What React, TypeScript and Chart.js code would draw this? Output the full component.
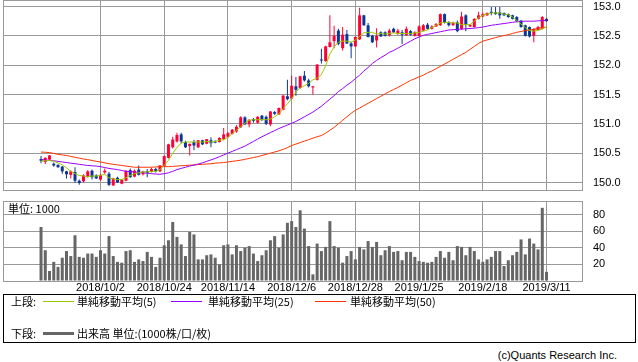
import React, { useEffect, useRef } from "react";
import { Chart, registerables } from "chart.js";
Chart.register(...registerables);

const NUM_FONT = "'Liberation Sans', Arial, sans-serif";
const JP_FONT = "'Noto Sans CJK JP', 'Liberation Sans', sans-serif";
const GRID = "#999999";
const RED = "#ff0033";
const BLUE = "#0a3696";

// ---- data ----
const xLabels = ["2018/10/2", "2018/10/24", "2018/11/14", "2018/12/6", "2018/12/28", "2019/1/25", "2019/2/18", "2019/3/11"];
const xTickIndex = [14, 29, 44, 59, 74, 89, 104, 119];
const priceTicks = [150.0, 150.5, 151.0, 151.5, 152.0, 152.5, 153.0];
const volumeTicks = [20, 40, 60, 80];

const open = [
  150.40,150.35,150.39,150.32,150.30,150.27,150.19,150.13,150.18,150.03,
  150.02,150.10,150.20,150.12,150.05,150.17,150.15,149.95,150.08,149.98,
  150.03,150.21,150.10,150.22,150.14,150.19,150.18,150.23,150.19,150.28,
  150.42,150.60,150.70,150.82,150.69,150.62,150.69,150.60,150.72,150.66,
  150.72,150.70,150.69,150.74,150.78,150.83,150.87,150.94,151.11,150.99,
  151.08,151.02,151.14,151.12,150.99,151.20,151.16,151.24,151.47,151.43,
  151.64,151.61,151.82,151.74,151.62,151.75,152.09,152.07,152.31,152.41,
  152.59,152.29,152.53,152.37,152.32,152.44,152.85,152.68,152.50,152.42,
  152.56,152.56,152.51,152.62,152.53,152.56,152.51,152.58,152.50,152.50,
  152.59,152.69,152.62,152.66,152.68,152.87,152.73,152.68,152.73,152.62,
  152.85,152.66,152.65,152.79,152.83,152.85,152.91,152.90,152.90,152.89,
  152.87,152.85,152.82,152.76,152.68,152.65,152.50,152.60,152.62,152.79,
];
const close = [
  150.37,150.42,150.46,150.29,150.26,150.19,150.14,150.19,150.03,149.99,
  150.12,150.19,150.09,150.07,150.13,150.20,149.96,150.07,150.00,150.05,
  150.20,150.09,150.20,150.13,150.19,150.16,150.23,150.19,150.29,150.45,
  150.65,150.73,150.81,150.70,150.60,150.66,150.63,150.72,150.65,150.74,
  150.67,150.68,150.76,150.82,150.84,150.90,150.95,151.11,150.99,151.07,
  151.05,151.12,151.07,151.00,151.21,151.17,151.27,151.48,151.42,151.65,
  151.58,151.81,151.74,151.64,151.64,152.01,152.08,152.32,152.39,152.50,
  152.36,152.52,152.37,152.32,152.48,152.85,152.68,152.48,152.39,152.50,
  152.49,152.50,152.59,152.56,152.59,152.52,152.62,152.52,152.56,152.66,
  152.68,152.62,152.66,152.70,152.87,152.72,152.68,152.72,152.58,152.83,
  152.69,152.69,152.79,152.85,152.87,152.89,152.89,152.87,152.85,152.85,
  152.82,152.79,152.75,152.65,152.50,152.49,152.62,152.65,152.82,152.75,
];
const high = [
  150.45,150.43,150.47,150.34,150.31,150.28,150.20,150.21,150.26,150.05,
  150.14,150.21,150.22,150.14,150.15,150.24,150.18,150.08,150.10,150.05,
  150.21,150.24,150.22,150.29,150.20,150.23,150.25,150.25,150.30,150.46,
  150.66,150.78,150.85,150.85,150.71,150.66,150.73,150.72,150.73,150.74,
  150.77,150.72,150.77,150.93,150.86,150.91,150.98,151.13,151.13,151.08,
  151.10,151.13,151.15,151.14,151.22,151.22,151.28,151.50,151.75,151.82,
  151.80,151.82,151.90,151.77,151.64,152.02,152.28,152.33,152.85,152.67,
  152.62,152.65,152.60,152.40,152.49,152.98,152.86,152.72,152.52,152.63,
  152.58,152.58,152.62,152.64,152.62,152.60,152.66,152.60,152.58,152.68,
  152.70,152.72,152.68,152.72,152.88,152.88,152.75,152.74,152.76,152.91,
  152.87,152.70,152.80,152.91,152.90,152.90,152.99,152.99,152.99,152.90,
  152.88,152.86,152.84,152.77,152.69,152.66,152.63,152.67,152.84,152.80,
];
const low = [
  150.33,150.31,150.38,150.27,150.25,150.15,150.07,150.07,149.99,149.96,
  150.00,150.08,150.05,150.06,150.03,150.15,149.94,149.94,149.99,149.97,
  150.02,150.08,150.09,150.12,150.12,150.09,150.17,150.17,150.18,150.27,
  150.41,150.58,150.68,150.67,150.59,150.46,150.55,150.59,150.64,150.65,
  150.60,150.67,150.68,150.72,150.76,150.82,150.85,150.93,150.98,150.94,
  151.02,151.00,151.05,150.98,150.96,151.15,151.15,151.23,151.40,151.42,
  151.48,151.60,151.72,151.62,151.50,151.74,152.03,152.06,152.30,152.29,
  152.34,152.25,152.36,152.12,152.31,152.43,152.67,152.47,152.38,152.30,
  152.48,152.49,152.49,152.55,152.52,152.36,152.50,152.50,152.49,152.49,
  152.58,152.61,152.61,152.65,152.67,152.71,152.66,152.67,152.56,152.60,
  152.58,152.65,152.64,152.78,152.82,152.84,152.85,152.86,152.79,152.84,
  152.81,152.78,152.73,152.64,152.49,152.47,152.39,152.59,152.61,152.74,
];
const ma5 = [
  150.36,150.37,150.375,150.36,150.335,150.30,150.25,150.19,150.15,150.12,
  150.11,150.10,150.11,150.11,150.12,150.14,150.08,150.06,150.05,150.05,
  150.08,150.12,150.15,150.165,150.18,150.18,150.19,150.19,150.22,150.29,
  150.375,150.50,150.60,150.67,150.69,150.69,150.69,150.69,150.69,150.70,
  150.69,150.70,150.72,150.73,150.77,150.83,150.89,150.95,151.01,151.06,
  151.07,151.07,151.07,151.07,151.08,151.12,151.17,151.26,151.34,151.43,
  151.54,151.61,151.65,151.69,151.75,151.78,151.84,151.99,152.19,152.31,
  152.39,152.41,152.41,152.39,152.43,152.49,152.55,152.56,152.56,152.53,
  152.54,152.53,152.54,152.55,152.54,152.54,152.54,152.54,152.55,152.56,
  152.58,152.60,152.64,152.68,152.72,152.73,152.73,152.72,152.72,152.69,
  152.69,152.69,152.75,152.81,152.85,152.87,152.89,152.89,152.89,152.87,
  152.86,152.82,152.76,152.70,152.64,152.59,152.58,152.59,152.62,152.65,
];
const ma25 = [
  150.39,150.385,150.375,150.37,150.36,150.35,150.34,150.33,150.32,150.31,
  150.30,150.29,150.285,150.28,150.27,150.255,150.24,150.23,150.22,150.205,
  150.19,150.185,150.18,150.17,150.165,150.16,150.15,150.145,150.14,150.15,
  150.165,150.19,150.22,150.24,150.26,150.28,150.295,150.315,150.335,150.36,
  150.385,150.41,150.44,150.47,150.50,150.53,150.56,150.59,150.62,150.66,
  150.70,150.74,150.78,150.815,150.85,150.885,150.92,150.95,150.98,151.01,
  151.04,151.08,151.12,151.16,151.20,151.25,151.30,151.36,151.42,151.48,
  151.55,151.60,151.66,151.71,151.77,151.83,151.90,151.96,152.03,152.08,
  152.13,152.17,152.22,152.25,152.29,152.33,152.37,152.41,152.45,152.48,
  152.51,152.525,152.54,152.555,152.57,152.585,152.60,152.605,152.61,152.615,
  152.62,152.625,152.63,152.64,152.65,152.665,152.68,152.69,152.70,152.71,
  152.72,152.73,152.74,152.745,152.75,152.75,152.75,152.755,152.76,152.76,
];
const ma50 = [
  150.52,150.515,150.51,150.495,150.48,150.47,150.46,150.445,150.43,150.415,
  150.40,150.39,150.375,150.36,150.35,150.335,150.32,150.31,150.30,150.29,
  150.28,150.27,150.26,150.26,150.26,150.26,150.26,150.265,150.27,150.27,
  150.27,150.275,150.28,150.285,150.29,150.295,150.30,150.305,150.31,150.315,
  150.32,150.33,150.335,150.34,150.35,150.36,150.37,150.38,150.395,150.41,
  150.425,150.44,150.46,150.48,150.50,150.52,150.54,150.565,150.595,150.63,
  150.655,150.68,150.705,150.73,150.755,150.78,150.80,150.84,150.89,150.94,
  151.00,151.06,151.12,151.18,151.23,151.27,151.31,151.35,151.39,151.43,
  151.47,151.51,151.55,151.585,151.62,151.66,151.70,151.74,151.77,151.80,
  151.83,151.87,151.90,151.94,151.98,152.02,152.06,152.10,152.14,152.18,
  152.22,152.27,152.32,152.37,152.41,152.43,152.45,152.47,152.49,152.505,
  152.52,152.54,152.56,152.575,152.59,152.60,152.61,152.625,152.64,152.65,
];
const volume = [
  65,37,12,23,17,28,36,30,55,29,
  28,33,33,29,37,33,54,30,23,22,
  36,37,23,26,24,35,29,17,28,43,
  49,71,53,44,30,59,56,26,26,31,
  32,28,20,43,44,32,43,36,40,42,
  33,24,31,37,49,54,40,56,70,72,
  65,85,63,42,8,45,36,41,72,42,
  40,22,30,36,26,41,38,48,41,47,
  31,37,42,35,36,25,35,35,29,24,
  23,22,23,29,36,28,35,25,42,41,
  31,41,36,26,23,26,29,36,36,18,
  25,31,35,50,32,51,45,38,88,11,
];

// ---- axis ranges ----
const X_MIN = -8.952;
const X_MAX = 127.35;
const P_MIN = 149.872;
const P_MAX = 153.111;
const V_MIN = 0;
const V_MAX = 96.2;

const idx = close.map((_, i) => i);
const candleColors = idx.map((i) => (close[i] >= open[i] ? RED : BLUE));

function zeroPad(s: any) {
  s.paddingTop = 0;
  s.paddingBottom = 0;
  s.paddingLeft = 0;
  s.paddingRight = 0;
}

function xScale(showLabels: boolean, height: number) {
  return {
    type: "linear",
    min: X_MIN,
    max: X_MAX,
    offset: false,
    grid: { offset: false, color: GRID, drawTicks: false, lineWidth: 1 },
    border: { display: true, color: GRID },
    ticks: {
      display: showLabels,
      autoSkip: false,
      maxRotation: 0,
      minRotation: 0,
      padding: 0,
      color: "#000",
      font: { family: NUM_FONT, size: 11 },
      callback: (v: number) => {
        const k = xTickIndex.indexOf(v);
        return k >= 0 ? xLabels[k] : "";
      },
    },
    afterBuildTicks: (s: any) => {
      s.ticks = [X_MIN, ...xTickIndex, X_MAX].map((v) => ({ value: v }));
    },
    afterFit: (s: any) => {
      s.height = height;
      zeroPad(s);
    },
  };
}

function yScale(min: number, max: number, ticks: number[], fmt: (v: number) => string) {
  return {
    type: "linear",
    position: "right",
    min,
    max,
    grid: { color: GRID, drawTicks: false, lineWidth: 1 },
    border: { display: true, color: GRID },
    ticks: {
      autoSkip: false,
      padding: 11,
      color: "#000",
      font: { family: NUM_FONT, size: 11 },
      callback: (v: number) => (ticks.includes(v) ? fmt(v) : ""),
    },
    afterBuildTicks: (s: any) => {
      s.ticks = [min, ...ticks, max].map((v) => ({ value: v }));
    },
    afterFit: (s: any) => {
      s.width = 56;
      zeroPad(s);
    },
  };
}

function PriceChart() {
  const ref = useRef<HTMLCanvasElement>(null);
  useEffect(() => {
    const chart = new Chart(ref.current as HTMLCanvasElement, {
      type: "bar",
      data: {
        datasets: [
          {
            type: "line",
            label: "MA5",
            data: idx.map((i) => ({ x: i, y: ma5[i] })),
            borderColor: "#99cc00",
            borderWidth: 1,
            pointRadius: 0,
            order: 0,
          },
          {
            type: "line",
            label: "MA25",
            data: idx.map((i) => ({ x: i, y: ma25[i] })),
            borderColor: "#9900ff",
            borderWidth: 1,
            pointRadius: 0,
            order: 0,
          },
          {
            type: "line",
            label: "MA50",
            data: idx.map((i) => ({ x: i, y: ma50[i] })),
            borderColor: "#ff3300",
            borderWidth: 1,
            pointRadius: 0,
            order: 0,
          },
          {
            type: "bar",
            label: "body",
            data: idx.map((i) => ({ x: i, y: [open[i], close[i]] })),
            backgroundColor: candleColors,
            barThickness: 3,
            minBarLength: 1,
            grouped: false,
            borderWidth: 0,
            inflateAmount: 0,
            order: 1,
          },
          {
            type: "bar",
            label: "wick",
            data: idx.map((i) => ({ x: i, y: [low[i], high[i]] })),
            backgroundColor: candleColors,
            barThickness: 1,
            grouped: false,
            borderWidth: 0,
            inflateAmount: 0,
            order: 2,
          },
        ] as any,
      },
      options: {
        animation: false,
        responsive: false,
        maintainAspectRatio: false,
        layout: { padding: { left: 3, right: 0, top: 0, bottom: 1 } },
        plugins: { legend: { display: false }, tooltip: { enabled: false } },
        scales: {
          x: xScale(false, 0) as any,
          y: yScale(P_MIN, P_MAX, priceTicks, (v) => v.toFixed(1)) as any,
        },
      },
    });
    return () => chart.destroy();
  }, []);
  return (
    <canvas
      ref={ref}
      width={638}
      height={191}
      style={{ position: "absolute", left: 0, top: 0, width: 638, height: 191 }}
    />
  );
}

function VolumeChart() {
  const ref = useRef<HTMLCanvasElement>(null);
  useEffect(() => {
    const chart = new Chart(ref.current as HTMLCanvasElement, {
      type: "bar",
      data: {
        datasets: [
          {
            label: "出来高",
            data: idx.map((i) => ({ x: i, y: volume[i] })),
            backgroundColor: "#666666",
            barThickness: 3,
            borderWidth: 0,
            inflateAmount: 0,
          },
        ] as any,
      },
      options: {
        animation: false,
        responsive: false,
        maintainAspectRatio: false,
        layout: { padding: { left: 3, right: 0, top: 11, bottom: 0 } },
        plugins: { legend: { display: false }, tooltip: { enabled: false } },
        scales: {
          x: xScale(true, 14) as any,
          y: yScale(V_MIN, V_MAX, volumeTicks, (v) => String(v)) as any,
        },
      },
    });
    return () => chart.destroy();
  }, []);
  return (
    <canvas
      ref={ref}
      width={638}
      height={105}
      style={{ position: "absolute", left: 0, top: 190, width: 638, height: 105 }}
    />
  );
}

const txt = (extra: React.CSSProperties): React.CSSProperties => ({
  position: "absolute",
  font: `11px ${JP_FONT}`,
  lineHeight: "13px",
  color: "#000",
  whiteSpace: "nowrap",
  ...extra,
});

export default function App() {
  return (
    <div
      style={{
        position: "fixed",
        left: 0,
        top: 0,
        width: 638,
        height: 362,
        background: "#fff",
        overflow: "hidden",
      }}
    >
      <PriceChart />
      <VolumeChart />
      <div style={txt({ left: 8, top: 202 })}>単位: 1000</div>
      <div
        style={{
          position: "absolute",
          left: 3,
          top: 294,
          width: 631,
          height: 47,
          border: "1px solid #000",
        }}
      />
      <div style={txt({ left: 11, top: 295 })}>上段:</div>
      <div style={{ position: "absolute", left: 43, top: 301, width: 31, height: 1, background: "#99cc00" }} />
      <div style={txt({ left: 77, top: 295 })}>単純移動平均(5)</div>
      <div style={{ position: "absolute", left: 171, top: 301, width: 31, height: 1, background: "#9900ff" }} />
      <div style={txt({ left: 208, top: 295 })}>単純移動平均(25)</div>
      <div style={{ position: "absolute", left: 315, top: 301, width: 31, height: 1, background: "#ff3300" }} />
      <div style={txt({ left: 350, top: 295 })}>単純移動平均(50)</div>
      <div style={txt({ left: 11, top: 327 })}>下段:</div>
      <div style={{ position: "absolute", left: 43, top: 332, width: 31, height: 3, background: "#666666" }} />
      <div style={txt({ left: 77, top: 327 })}>出来高 単位:(1000株/口/枚)</div>
      <div style={txt({ right: 21, top: 349, font: `11px ${NUM_FONT}` })}>(c)Quants Research Inc.</div>
    </div>
  );
}
